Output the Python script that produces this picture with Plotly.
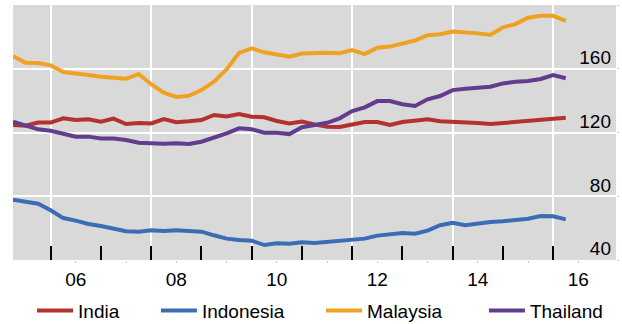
import numpy as np
import plotly.graph_objects as go

# Quarterly observations, 2005 Q2 .. 2016 Q2 (decimal years)
periods = list(np.round(np.arange(2005.25, 2016.26, 0.25), 2))

india = [124.7, 124.3, 126.2, 126.2, 128.9, 127.8, 128.3, 126.8, 128.7, 125.3,
         125.9, 125.7, 128.4, 126.4, 127.0, 127.8, 131.0, 130.1, 131.6, 129.9,
         129.5, 127.2, 125.7, 126.9, 125.1, 123.6, 123.4, 124.9, 126.6, 126.6,
         124.7, 126.6, 127.4, 128.3, 127.0, 126.6, 126.8, 126.0, 125.3, 126.0,
         126.8, 127.0, 127.8, 128.9, 129.3]
indonesia = [77.8, 76.8, 75.3, 71.2, 66.3, 64.7, 62.6, 61.3, 59.7, 58.0,
             57.8, 58.6, 58.2, 58.6, 58.2, 57.8, 55.5, 53.4, 52.5, 52.1,
             49.4, 50.5, 50.2, 51.1, 50.7, 51.3, 52.5, 52.8, 53.4, 55.3,
             56.1, 56.9, 56.5, 58.4, 61.8, 63.4, 61.8, 63.0, 63.8, 64.3,
             64.9, 65.9, 67.6, 67.4, 65.5]
malaysia = [168.0, 163.8, 163.6, 162.1, 157.9, 157.3, 156.1, 155.0, 154.2, 153.7,
            156.7, 150.3, 145.0, 142.3, 143.0, 146.6, 151.9, 159.6, 170.0, 172.8,
            170.3, 168.8, 167.5, 169.5, 170.0, 170.0, 169.7, 171.7, 169.2, 173.2,
            173.9, 176.0, 177.7, 181.0, 181.6, 183.3, 182.9, 182.2, 181.2, 186.0,
            188.0, 192.0, 193.2, 193.2, 190.1]
thailand = [126.8, 124.1, 122.0, 121.1, 119.5, 117.4, 117.4, 116.3, 116.3, 115.3,
            113.6, 113.2, 113.0, 113.2, 112.8, 114.2, 116.7, 119.5, 122.6, 122.0,
            119.9, 119.9, 119.0, 123.3, 124.7, 126.1, 128.9, 133.5, 135.8, 139.7,
            139.7, 137.7, 136.6, 140.8, 142.9, 146.6, 147.5, 147.9, 148.7, 150.8,
            151.9, 152.3, 153.6, 156.0, 154.0]

series_names = ["India", "Indonesia", "Malaysia", "Thailand"]
series_values = [india, indonesia, malaysia, thailand]
colors = ["#b3312f", "#3b6db4", "#efa222", "#623c8f"]
name_pads = [6, 6, 7, 0]

year_ticks = list(range(2006, 2017))           # yearly tick marks
grid_years = list(range(2006, 2017, 2))        # vertical gridlines
label_pos = [y + 0.5 for y in range(2006, 2017)]
label_text = ["06", "", "08", "", "10", "", "12", "", "14", "", "16"]
y_ticks = [40, 80, 120, 160, 200]
y_text = ["40", "80", "120", "160", ""]

FONT = "Liberation Sans, Arial, sans-serif"

fig = go.Figure()
# invisible carrier trace so the grid/tick axes (x, y) are rendered
fig.add_trace(go.Scatter(x=periods, y=india, mode="lines", line=dict(width=0),
                         opacity=0, showlegend=False, hoverinfo="skip",
                         xaxis="x", yaxis="y"))
for name, vals, col, p in zip(series_names, series_values, colors, name_pads):
    fig.add_trace(go.Scatter(
        x=periods, y=vals, name=name + "\u00a0" * p, mode="lines",
        line=dict(color=col, width=4), xaxis="x2", yaxis="y2",
    ))

xr = [2005.25, 2017.25]
yr = [40, 200]
fig.update_layout(
    width=622, height=324,
    margin=dict(l=13, r=6, t=5, b=64, autoexpand=False),
    paper_bgcolor="white", plot_bgcolor="#d9d9d9",
    font=dict(family=FONT, size=19, color="black"),
    showlegend=True,
    legend=dict(orientation="h", x=0.0316, xanchor="left", y=-0.199, yanchor="middle",
                font=dict(size=19, color="black"), itemwidth=36,
                bgcolor="rgba(0,0,0,0)"),
    xaxis=dict(range=xr, tickmode="array", tickvals=grid_years, showticklabels=False,
               showgrid=True, gridcolor="white", gridwidth=2, zeroline=False,
               ticks="inside", ticklen=14, tickcolor="black", tickwidth=1.5,
               minor=dict(tickmode="array", tickvals=year_ticks, ticks="inside",
                          ticklen=14, tickcolor="black", tickwidth=1.5, showgrid=False),
               showline=False, fixedrange=True, automargin=False),
    xaxis2=dict(range=xr, overlaying="x", anchor="y", side="bottom",
                tickmode="array", tickvals=label_pos, ticktext=label_text,
                ticks="outside", ticklen=2, tickcolor="#cccccc",
                showgrid=False, zeroline=False, showline=False, automargin=False,
                ticklabeloverflow="allow",
                tickfont=dict(size=19, color="black")),
    yaxis=dict(range=yr, side="right", tickmode="array", tickvals=y_ticks,
               showticklabels=False, showgrid=True, gridcolor="white", gridwidth=2,
               zeroline=False, ticks="outside", ticklen=2, tickcolor="#cccccc",
               automargin=False, showline=False),
    yaxis2=dict(range=yr, overlaying="y", anchor="x", side="right",
                tickmode="array", tickvals=y_ticks, ticktext=y_text,
                showgrid=False, zeroline=False, ticks="", automargin=False,
                ticklabelposition="inside top", ticklabelstandoff=2, ticklabelshift=2,
                ticklabeloverflow="allow",
                tickfont=dict(size=19, color="black"), showline=False),
)

fig.write_html("out.html", config={"displayModeBar": False},
               post_script="document.body.style.margin='0px';")
